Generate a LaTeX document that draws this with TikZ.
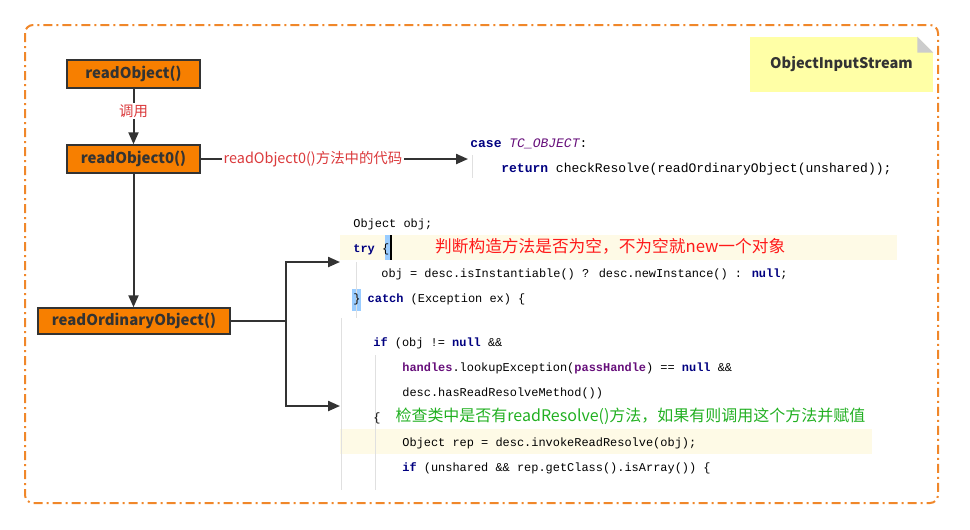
\documentclass[tikz,border=0pt]{standalone}
\usepackage{fontspec}
\setmainfont{Noto Sans CJK SC}
\newfontfamily\codefont{Liberation Mono}
\usepackage{xcolor}
\usepackage{tikz}
\usetikzlibrary{arrows.meta,calc}
\definecolor{boxorange}{HTML}{F77F00}
\definecolor{linegray}{HTML}{333333}
\definecolor{framebd}{HTML}{F0872A}
\definecolor{labelred}{HTML}{DB3A3C}
\definecolor{cmtred}{HTML}{FF1A1A}
\definecolor{cmtgreen}{HTML}{22B022}
\definecolor{kwblue}{HTML}{000080}
\definecolor{fdpurple}{HTML}{660E7A}
\definecolor{band}{HTML}{FEFAE6}
\definecolor{cursor}{HTML}{99CCFF}
\definecolor{guide}{HTML}{E0E0E0}
\definecolor{noteyellow}{HTML}{FFFFA6}
\definecolor{notefold}{HTML}{CCCCCC}
\newlength\px \setlength\px{0.02cm}
\newcommand\kw[1]{\textcolor{kwblue}{\bfseries #1}}
\newcommand\fd[1]{\textcolor{fdpurple}{\bfseries #1}}
\newcommand\ind[1]{\hspace*{#1\px}}
\tikzset{
  fn/.style={draw=linegray, fill=boxorange, line width=1.5\px, text=linegray,
    font=\bfseries\fontsize{8.5}{10}\selectfont, inner sep=0pt},
  flow/.style={line width=2\px, draw=linegray, -{Triangle[length=6.8pt,width=5.7pt]}},
  tag/.style={fill=white, text=labelred, font=\fontsize{8.2}{10}\selectfont, inner sep=1pt},
  code/.style={anchor=west, align=left, inner ysep=0pt, text=black,
    font=\codefont\fontsize{6.8}{14.17}\selectfont},
  frame/.style={draw=framebd, line width=2\px, rounded corners=8\px,
    dash pattern=on 9\px off 4\px on 2\px off 4\px},
}

\begin{document}
\begin{tikzpicture}[x=0.02cm, y=-0.02cm]
  \useasboundingbox (0,0) rectangle (970,529);
  \draw[frame] (25,25) rectangle (938,503);

  \node[fn, minimum width=133\px, minimum height=28\px] (readobj) at (133.5,74) {readObject()};
  \node[fn, minimum width=133\px, minimum height=28\px] (readobjzero) at (133.5,159) {readObject0()};
  \node[fn, minimum width=192\px, minimum height=26\px] (readord) at (134,321) {readOrdinaryObject()};

  \node[fill=noteyellow, minimum width=183\px, minimum height=55\px, text=linegray,
    font=\bfseries\fontsize{8.3}{10}\selectfont] (stream) at (841.5,64.5) {ObjectInputStream};
  \fill[white] ($(stream.north east)+(-16,0)$) -- (stream.north east) -- ($(stream.north east)+(0,16)$) -- cycle;
  \fill[notefold] ($(stream.north east)+(-16,0)$) -- ($(stream.north east)+(-16,16)$) -- ($(stream.north east)+(0,16)$) -- cycle;

  \fill[band] (340,235) rectangle (897,260);
  \fill[band] (340,429) rectangle (872,454);
  \fill[cursor] (385,235) rectangle (391,260);
  \fill[cursor] (352,289) rectangle (361,311);
  \draw[guide] (472,155) -- (472,178) (356,262) -- (356,318) (341,318) -- (341,490) (375,355) -- (375,490);

  \node[code, inner xsep=2\px, font=\codefont\fontsize{7.4}{14.17}\selectfont] (caseobj) at (468,157)
    {\kw{case} \textcolor{fdpurple}{\itshape TC\_OBJECT}:\\
     \ind{31}\kw{return} checkResolve(readOrdinaryObject(unshared));};

  \node[code, inner xsep=13\px] (trynew) at (340,262)
    {Object obj;\\
     \kw{try} \{\ind{46}{\normalfont\fontsize{9.5}{14.17}\selectfont\textcolor{cmtred}{判断构造方法是否为空，不为空就new一个对象}}\\
     \ind{28}obj = desc.isInstantiable() ? desc.newInstance() : \kw{null};\\
     \} \kw{catch} (Exception ex) \{};
  \draw[line width=2\px] (391,235) -- (391,260);

  \node[code, inner xsep=33\px] (ifresolve) at (340,406)
    {\kw{if} (obj != \kw{null} \&\&\\
     \ind{29}\fd{handles}.lookupException(\fd{passHandle}) == \kw{null} \&\&\\
     \ind{29}desc.hasReadResolveMethod())\\
     \{\ind{15}{\normalfont\fontsize{9.1}{14.17}\selectfont\textcolor{cmtgreen}{检查类中是否有readResolve()方法，如果有则调用这个方法并赋值}}\\
     \ind{29}Object rep = desc.invokeReadResolve(obj);\\
     \ind{29}\kw{if} (unshared \&\& rep.getClass().isArray()) \{};

  \draw[flow] (readobj) -- node[tag, pos=0.4] {调用} (readobjzero);
  \draw[flow] (readobjzero.east) -- node[tag, pos=0.42] {readObject0()方法中的代码} (readobjzero.east -| caseobj.west);
  \draw[flow] (readobjzero.south) -- (readobjzero.south |- readord.north);
  \draw[flow] (readord.east) -- ++(55,0) |- (trynew.west);
  \draw[flow] (readord.east) -- ++(55,0) |- (ifresolve.west);
\end{tikzpicture}
\end{document}
